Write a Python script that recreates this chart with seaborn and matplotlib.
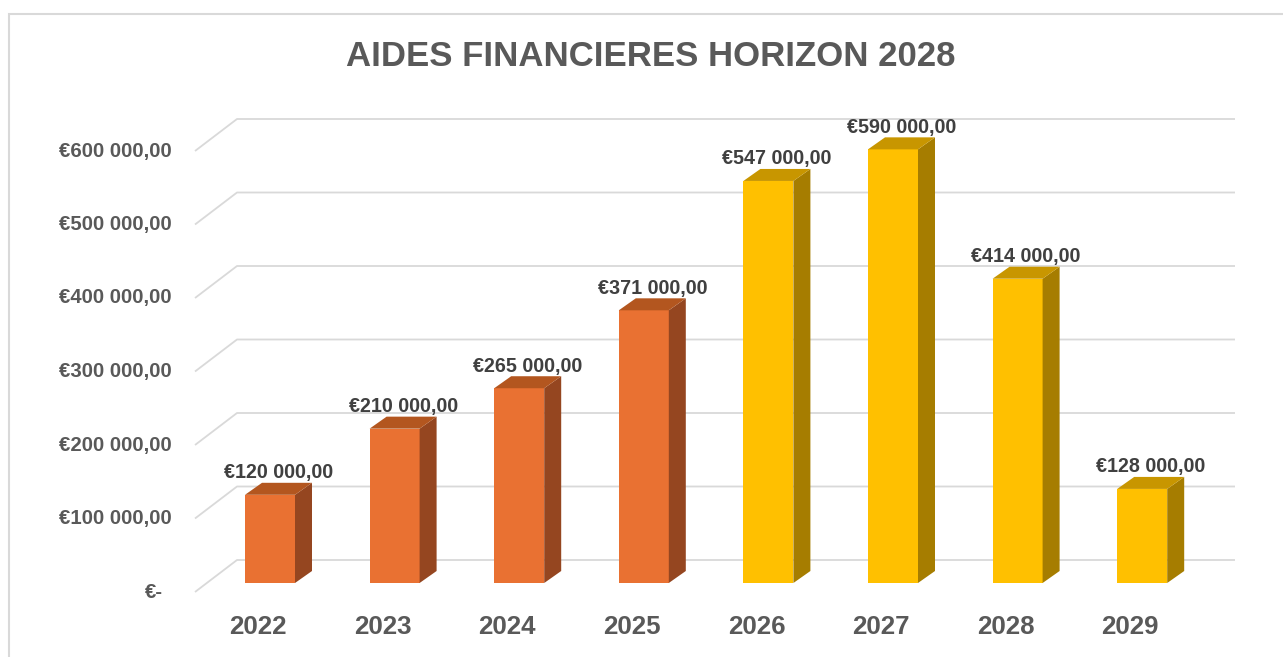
import matplotlib
matplotlib.use("Agg")
import matplotlib.pyplot as plt
import seaborn as sns
from matplotlib.patches import Polygon, Rectangle

sns.set_theme(style="white")
plt.rcParams['font.family'] = ['Liberation Sans', 'DejaVu Sans']

# chart data
years = ["2022", "2023", "2024", "2025", "2026", "2027", "2028", "2029"]
amounts = [120000, 210000, 265000, 371000, 547000, 590000, 414000, 128000]
front_colors = ["#E97132"] * 4 + ["#FFC000"] * 4
top_colors = ["#B3561F"] * 4 + ["#C89600"] * 4
side_colors = ["#954620"] * 4 + ["#A67D00"] * 4
tick_values = [0, 100000, 200000, 300000, 400000, 500000, 600000]

# fake 3D geometry (category units / value units)
PX_X = 124.6          # pixels per category
PX_Y = 73.5 / 100000  # pixels per value unit
BAR_W = 50 / PX_X
DEPTH_X = 17 / PX_X
DEPTH_Y = 12 / PX_Y
FLOOR_OFF = 9 / PX_Y          # front axis lies below bar base
WALL_X = 42 / PX_X
WALL_Y = 32 / PX_Y
FLOOR_LEFT = (195 - 270) / PX_X
WALL_RIGHT = (1235 - 270) / PX_X


def euro(v):
    if v == 0:
        return "€-"
    s = f"{v:,.2f}".replace(",", " ").replace(".", ",")
    return "€" + s


def main():
    fig = plt.figure(figsize=(12.83, 6.57), dpi=100)
    ax = fig.add_axes([0, 0, 1, 1])

    df = {"year": years, "amount": amounts}
    sns.barplot(data=df, x="year", y="amount", hue="year", palette=front_colors,
                width=BAR_W, legend=False, saturation=1, linewidth=0, ax=ax, zorder=3)

    # gridlines: diagonal on the left wall, then along the back wall
    for v in tick_values:
        y0 = v - FLOOR_OFF
        ax.plot([FLOOR_LEFT, FLOOR_LEFT + WALL_X, WALL_RIGHT],
                [y0, y0 + WALL_Y, y0 + WALL_Y],
                color="#D9D9D9", lw=1.3, zorder=1, solid_capstyle="butt")
        ax.text((172 - 270) / PX_X if v else (163 - 270) / PX_X, y0, euro(v),
                ha="right", va="center", fontsize=14.7, fontweight="bold",
                color="#595959")

    # side and top faces + labels
    for i, (yr, v) in enumerate(zip(years, amounts)):
        l, r = i - BAR_W / 2, i + BAR_W / 2
        side = Polygon([(r, 0), (r + DEPTH_X, DEPTH_Y), (r + DEPTH_X, v + DEPTH_Y), (r, v)],
                       closed=True, facecolor=side_colors[i], edgecolor="none", zorder=3)
        top = Polygon([(l, v), (r, v), (r + DEPTH_X, v + DEPTH_Y), (l + DEPTH_X, v + DEPTH_Y)],
                      closed=True, facecolor=top_colors[i], edgecolor="none", zorder=3)
        ax.add_patch(side)
        ax.add_patch(top)
        ax.text(i + DEPTH_X / 2, v + DEPTH_Y + 10 / PX_Y, euro(v), ha="center", va="center",
                fontsize=14.2, fontweight="bold", color="#404040", zorder=4)
        ax.text(i - 12 / PX_X, -44 / PX_Y, yr, ha="center", va="center",
                fontsize=18.6, fontweight="bold", color="#595959")

    ax.set_xlim(-270 / PX_X, (1283 - 270) / PX_X)
    ax.set_ylim(-(657 - 583) / PX_Y, 583 / PX_Y)
    ax.axis("off")

    fig.text(651 / 1283, 1 - 57 / 657, "AIDES FINANCIERES HORIZON 2028", ha="center",
             va="center", fontsize=25, fontweight="bold", color="#595959")
    fig.patches.append(Rectangle((9 / 1283, -0.1), 1.2, 1 - 14 / 657 + 0.1,
                                 transform=fig.transFigure, fill=False,
                                 edgecolor="#D9D9D9", lw=1.5))

    fig.savefig("out.png", dpi=100)


if __name__ == "__main__":
    main()
